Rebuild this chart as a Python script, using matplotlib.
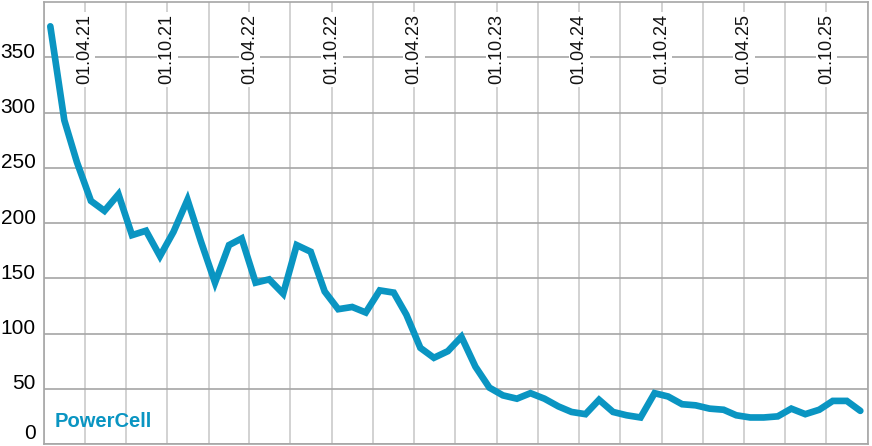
import matplotlib.pyplot as plt
import matplotlib.dates as mdates
import matplotlib.transforms as mtransforms
import pandas as pd

# monthly values, Jan 2021 - Dec 2025
months = pd.date_range("2021-01-01", periods=60, freq="MS") + pd.Timedelta(days=14)
values = [378, 293, 255, 220, 211, 226, 189, 193, 170, 192,
          221, 183, 146, 180, 186, 146, 149, 136, 180, 174,
          138, 122, 124, 119, 139, 137, 117, 87, 78, 84,
          97, 70, 51, 44, 41, 46, 41, 34, 29, 27,
          40, 29, 26, 24, 46, 43, 36, 35, 32, 31,
          26, 24, 24, 25, 32, 27, 31, 39, 39, 30]

yticks = [0, 50, 100, 150, 200, 250, 300, 350]
label_dates = ["2021-04-01", "2021-10-01", "2022-04-01", "2022-10-01", "2023-04-01",
               "2023-10-01", "2024-04-01", "2024-10-01", "2025-04-01", "2025-10-01"]

blue = "#0a95c2"
plt.rcParams["font.family"] = ["Liberation Sans", "DejaVu Sans"]

fig = plt.figure(figsize=(8.72, 4.46), dpi=100)
ax = fig.add_axes([44 / 872, 2 / 446, 824 / 872, 442 / 446])

ax.set_xlim(pd.Timestamp("2021-01-01"), pd.Timestamp("2026-01-01"))
ax.set_ylim(0, 400)

# grid
ax.set_yticks(yticks)
ax.yaxis.grid(True, color="#a6a6a6", linewidth=1.2)
ax.xaxis.set_major_locator(mdates.MonthLocator(bymonth=[1, 4, 7, 10]))
ax.xaxis.grid(True, color="#cbcbcb", linewidth=1.2)
ax.set_axisbelow(True)
ax.tick_params(axis="x", length=0, labelbottom=False)
ax.tick_params(axis="y", length=0, pad=6, labelsize=15)
for s in ax.spines.values():
    s.set_color("#a6a6a6")
    s.set_linewidth(1.2)

# shift y labels slightly up (the 0 a bit more so it stays inside)
for val, lab in zip(yticks, ax.get_yticklabels()):
    dy = 9 if val == 0 else 5
    lab.set_transform(lab.get_transform()
                      + mtransforms.ScaledTranslation(0, dy / 72, fig.dpi_scale_trans))

# date labels inside the plot
for d in label_dates:
    ax.text(pd.Timestamp(d), 0.972, pd.Timestamp(d).strftime("%d.%m.%y"),
            transform=ax.get_xaxis_transform(), rotation=90, ha="center", va="top",
            fontsize=13, color="#111111",
            bbox=dict(facecolor="white", edgecolor="none", pad=1.5))

ax.plot(months, values, color=blue, linewidth=4.8, solid_joinstyle="miter",
        solid_capstyle="round", zorder=3)

ax.text(0.013, 0.05, "PowerCell", transform=ax.transAxes, color=blue,
        fontsize=14.5, fontweight="bold", ha="left", va="center")

fig.savefig("out.png", dpi=100)
